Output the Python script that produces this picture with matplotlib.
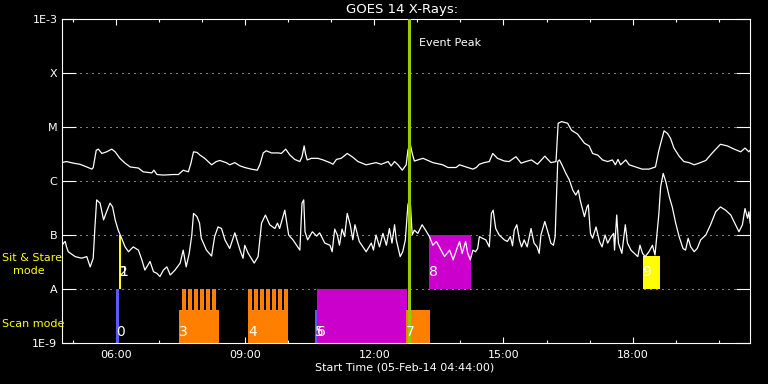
import numpy as np
import matplotlib
matplotlib.use('Agg')
from matplotlib import pyplot as plt
from matplotlib.ticker import FixedLocator, NullLocator

# GOES 14 X-ray flux, time in decimal hours (UT), flux as log10(W/m^2)
long_t = [4.73, 4.85, 5.01, 5.16, 5.32, 5.44, 5.47, 5.54, 5.59, 5.67,
          5.78, 5.90, 5.98, 6.09, 6.21, 6.33, 6.52, 6.63, 6.83, 6.88,
          6.95, 7.10, 7.33, 7.45, 7.56, 7.68, 7.74, 7.80, 7.88, 7.95,
          8.06, 8.22, 8.33, 8.41, 8.56, 8.64, 8.76, 8.88, 8.99, 9.14,
          9.28, 9.34, 9.42, 9.49, 9.61, 9.77, 9.84, 9.94, 10.04, 10.15,
          10.27, 10.32, 10.37, 10.40, 10.44, 10.54, 10.69, 10.81, 10.97, 11.04,
          11.12, 11.23, 11.37, 11.50, 11.62, 11.81, 12.04, 12.16, 12.32, 12.39,
          12.47, 12.55, 12.65, 12.74, 12.78, 12.83, 12.88, 12.93, 13.13, 13.36,
          13.59, 13.71, 13.90, 13.98, 14.13, 14.29, 14.37, 14.44, 14.55, 14.67,
          14.75, 14.86, 15.02, 15.13, 15.29, 15.41, 15.52, 15.65, 15.79, 15.96,
          16.10, 16.22, 16.27, 16.35, 16.49, 16.58, 16.72, 16.88, 16.99, 17.07,
          17.19, 17.30, 17.42, 17.53, 17.60, 17.66, 17.72, 17.84, 17.92, 18.07,
          18.22, 18.38, 18.53, 18.61, 18.73, 18.81, 18.88, 18.96, 19.08, 19.19,
          19.31, 19.43, 19.54, 19.70, 19.85, 20.04, 20.20, 20.36, 20.51, 20.61,
          20.70, 20.73]
long_log = [-5.66, -5.64, -5.67, -5.69, -5.74, -5.78, -5.75, -5.43, -5.41, -5.49,
            -5.46, -5.41, -5.46, -5.58, -5.67, -5.74, -5.76, -5.83, -5.85, -5.80,
            -5.88, -5.89, -5.88, -5.88, -5.80, -5.83, -5.67, -5.46, -5.47, -5.52,
            -5.58, -5.70, -5.64, -5.62, -5.66, -5.70, -5.66, -5.72, -5.75, -5.78,
            -5.80, -5.70, -5.48, -5.44, -5.48, -5.48, -5.49, -5.41, -5.52, -5.60,
            -5.64, -5.55, -5.35, -5.49, -5.61, -5.58, -5.58, -5.61, -5.66, -5.69,
            -5.60, -5.58, -5.49, -5.56, -5.64, -5.70, -5.66, -5.69, -5.64, -5.72,
            -5.64, -5.70, -5.80, -5.70, -5.43, -5.30, -5.49, -5.63, -5.58, -5.66,
            -5.70, -5.75, -5.75, -5.70, -5.74, -5.78, -5.75, -5.69, -5.66, -5.64,
            -5.49, -5.58, -5.63, -5.64, -5.55, -5.67, -5.64, -5.61, -5.69, -5.54,
            -5.66, -5.64, -4.93, -4.90, -4.93, -5.06, -5.13, -5.30, -5.35, -5.49,
            -5.52, -5.61, -5.64, -5.61, -5.70, -5.60, -5.70, -5.61, -5.70, -5.74,
            -5.78, -5.78, -5.74, -5.43, -5.07, -5.12, -5.21, -5.39, -5.54, -5.64,
            -5.66, -5.70, -5.67, -5.62, -5.48, -5.32, -5.35, -5.41, -5.46, -5.39,
            -5.46, -5.43]

short_t = [4.73, 4.78, 4.82, 4.85, 4.89, 5.05, 5.20, 5.32, 5.40, 5.47,
           5.51, 5.55, 5.63, 5.71, 5.78, 5.86, 5.92, 5.98, 6.05, 6.13,
           6.21, 6.29, 6.40, 6.52, 6.60, 6.67, 6.79, 6.87, 6.95, 7.02,
           7.10, 7.18, 7.26, 7.37, 7.49, 7.56, 7.63, 7.70, 7.76, 7.80,
           7.88, 7.94, 7.98, 8.10, 8.22, 8.29, 8.37, 8.45, 8.53, 8.64,
           8.76, 8.88, 8.95, 8.99, 9.07, 9.21, 9.30, 9.38, 9.47, 9.57,
           9.69, 9.75, 9.80, 9.92, 10.01, 10.11, 10.27, 10.32, 10.36, 10.39,
           10.45, 10.56, 10.66, 10.73, 10.85, 10.97, 11.02, 11.08, 11.14, 11.19,
           11.25, 11.31, 11.37, 11.44, 11.50, 11.55, 11.65, 11.81, 11.93, 11.98,
           12.04, 12.12, 12.20, 12.28, 12.35, 12.41, 12.47, 12.51, 12.60, 12.66,
           12.72, 12.78, 12.83, 12.88, 12.93, 13.01, 13.11, 13.19, 13.28, 13.36,
           13.44, 13.51, 13.63, 13.75, 13.83, 13.92, 13.98, 14.04, 14.12, 14.17,
           14.23, 14.29, 14.35, 14.40, 14.44, 14.51, 14.59, 14.67, 14.72, 14.76,
           14.82, 14.90, 15.02, 15.09, 15.16, 15.21, 15.25, 15.31, 15.37, 15.42,
           15.48, 15.55, 15.64, 15.71, 15.78, 15.83, 15.87, 15.96, 16.04, 16.10,
           16.16, 16.20, 16.22, 16.26, 16.30, 16.37, 16.45, 16.53, 16.61, 16.68,
           16.74, 16.78, 16.84, 16.88, 16.94, 16.97, 17.02, 17.07, 17.15, 17.23,
           17.29, 17.36, 17.42, 17.50, 17.56, 17.58, 17.63, 17.67, 17.75, 17.83,
           17.88, 17.96, 18.04, 18.12, 18.17, 18.23, 18.29, 18.38, 18.46, 18.52,
           18.56, 18.61, 18.65, 18.71, 18.77, 18.85, 18.92, 19.00, 19.08, 19.17,
           19.23, 19.29, 19.35, 19.43, 19.50, 19.58, 19.70, 19.81, 19.93, 20.04,
           20.16, 20.28, 20.39, 20.47, 20.55, 20.61, 20.67, 20.70, 20.73]
short_log = [-7.22, -7.15, -7.12, -7.22, -7.31, -7.40, -7.43, -7.40, -7.59, -7.43,
             -6.85, -6.35, -6.41, -6.72, -6.57, -6.41, -6.48, -6.72, -6.91, -7.06,
             -7.22, -7.31, -7.22, -7.28, -7.46, -7.65, -7.49, -7.68, -7.71, -7.77,
             -7.65, -7.59, -7.74, -7.65, -7.52, -7.28, -7.59, -7.34, -7.00, -6.60,
             -6.66, -6.78, -7.06, -7.28, -7.39, -7.03, -6.85, -6.88, -7.09, -7.25,
             -6.96, -7.28, -7.43, -7.19, -7.34, -7.52, -7.40, -6.78, -6.63, -6.81,
             -6.88, -6.78, -6.88, -6.54, -7.00, -7.09, -7.28, -6.41, -6.35, -6.94,
             -7.09, -6.94, -7.02, -6.96, -7.15, -7.19, -7.31, -6.89, -7.00, -7.19,
             -6.89, -7.03, -6.60, -6.81, -7.09, -6.81, -7.12, -7.31, -7.15, -7.28,
             -7.00, -7.22, -6.97, -7.19, -6.88, -7.15, -6.81, -7.09, -7.40, -7.31,
             -7.09, -6.44, -6.32, -7.00, -6.91, -6.97, -6.81, -6.91, -7.03, -7.19,
             -7.12, -7.22, -7.40, -7.28, -7.46, -7.25, -7.12, -7.34, -7.12, -7.34,
             -7.46, -7.28, -7.31, -7.25, -7.03, -7.06, -7.09, -7.22, -6.60, -6.54,
             -6.88, -7.00, -7.09, -7.12, -7.03, -7.20, -6.91, -6.81, -7.09, -7.22,
             -7.09, -7.22, -6.88, -7.15, -7.22, -7.34, -7.00, -6.75, -6.97, -7.15,
             -7.19, -7.03, -6.54, -5.64, -5.61, -5.72, -5.86, -5.98, -6.17, -6.26,
             -6.17, -6.35, -6.54, -6.66, -6.48, -6.44, -6.97, -7.06, -6.85, -7.12,
             -7.22, -7.00, -7.15, -7.03, -6.97, -7.28, -6.63, -7.15, -7.34, -6.81,
             -7.15, -7.28, -7.34, -7.40, -7.19, -7.34, -7.40, -7.31, -7.19, -7.37,
             -7.03, -6.60, -6.11, -5.86, -6.01, -6.29, -6.48, -6.78, -7.03, -7.25,
             -7.28, -7.06, -7.22, -7.31, -7.25, -7.09, -7.00, -6.81, -6.57, -6.48,
             -6.54, -6.63, -6.81, -6.94, -6.81, -6.51, -6.69, -6.57, -6.78]

# observation blocks (numbered)
obs_num = ['0', '1', '2', '3', '4', '5', '6', '7', '8', '9']
obs_start = [6.00, 6.07, 6.07, 7.46, 9.07, 10.62, 10.67, 12.74, 13.28, 18.23]
obs_end = [6.06, 6.07, 6.12, 8.39, 9.99, 10.67, 12.76, 13.30, 14.24, 18.64]
obs_bottom = [1e-9, 1e-8, 1e-8, 1e-9, 1e-9, 1e-9, 1e-9, 1e-9, 1e-8, 1e-8]
obs_top = [1e-8, 1e-7, 1e-7, 4e-9, 4e-9, 4e-9, 1e-8, 4e-9, 1e-7, 4e-8]
obs_color = ['#5a5aff', '#ffff00', '#ffff00', '#ff8000', '#ff8000',
             '#5a5aff', '#cc00cc', '#ff8000', '#cc00cc', '#ffff00']
obs_mode = ['scan', 'sit', 'sit', 'scan', 'scan', 'scan', 'scan', 'scan', 'sit', 'sit']

# raster steps inside scan blocks 3 and 4
raster3 = [7.54, 7.68, 7.82, 7.96, 8.10, 8.24]
raster4 = [9.07, 9.21, 9.35, 9.49, 9.63, 9.77, 9.91]
raster_w = 0.086

peak_t = 12.80

xticks = [6, 9, 12, 15, 18]
xticklabels = ['06:00', '09:00', '12:00', '15:00', '18:00']
yticks = [1e-3, 1e-4, 1e-5, 1e-6, 1e-7, 1e-8, 1e-9]
yticklabels = ['1E-3', 'X', 'M', 'C', 'B', 'A', '1E-9']

fig = plt.figure(figsize=(7.68, 3.84), dpi=100, facecolor='black')
ax = fig.add_axes([61.5/768, 41/384, 688.8/768, 324/384], facecolor='black')
ax.set_yscale('log')
ax.set_xlim(4.7333, 20.7333)
ax.set_ylim(1e-9, 1e-3)

# observation blocks
for i in range(len(obs_num)):
    w = obs_end[i] - obs_start[i]
    if w > 0:
        ax.bar(obs_start[i], obs_top[i] - obs_bottom[i], width=w, bottom=obs_bottom[i],
               align='edge', color=obs_color[i], linewidth=0, zorder=2)
for r in raster3 + raster4:
    ax.bar(r, 1e-8 - 4e-9, width=raster_w, bottom=4e-9, align='edge',
           color='#ff8000', linewidth=0, zorder=2)

ax.plot(long_t, 10**np.array(long_log), color='white', lw=0.9, zorder=3)
ax.plot(short_t, 10**np.array(short_log), color='white', lw=0.9, zorder=3)

ax.axvline(peak_t, color='#99cc00', lw=2.2, zorder=4)
ax.text(peak_t + 0.24, 0.927, 'Event Peak', color='white', fontsize=8,
        va='center', ha='left', transform=ax.get_xaxis_transform(), zorder=5)

for i in range(len(obs_num)):
    ylab = 10**-8.80 if obs_mode[i] == 'scan' else 10**-7.69
    ax.text(obs_start[i], ylab, obs_num[i], color='white', fontsize=10,
            ha='left', va='center', zorder=5)

# axes styling
for s in ax.spines.values():
    s.set_color('white')
    s.set_linewidth(0.8)
ax.yaxis.set_major_locator(FixedLocator(yticks))
ax.yaxis.set_minor_locator(NullLocator())
ax.set_yticklabels(yticklabels)
ax.set_xticks(xticks)
ax.set_xticklabels(xticklabels)
ax.xaxis.set_minor_locator(FixedLocator(np.arange(5, 21)))
ax.tick_params(axis='x', which='major', direction='in', length=4.3, width=0.8,
               top=True, bottom=True, colors='white', labelsize=8, pad=5)
ax.tick_params(axis='x', which='minor', direction='in', length=2.2, width=0.8,
               top=True, bottom=True, colors='white')
ax.tick_params(axis='y', which='major', direction='in', length=10, width=0.8,
               left=True, right=True, colors='white', labelsize=8, pad=3)
ax.yaxis.grid(True, color='white', lw=0.72, linestyle=(0, (1, 5)))
ax.set_axisbelow(True)

fig.text(402/768, 1 - 9/384, 'GOES 14 X-Rays:', color='white', fontsize=9.5,
         ha='center', va='center')
fig.text(405/768, 1 - 368/384, 'Start Time (05-Feb-14 04:44:00)', color='white',
         fontsize=8, ha='center', va='center')
fig.text(2/768, 1 - 258/384, 'Sit & Stare', color='#ffff00', fontsize=8,
         ha='left', va='center')
fig.text(13/768, 1 - 271/384, 'mode', color='#ffff00', fontsize=8,
         ha='left', va='center')
fig.text(2/768, 1 - 324/384, 'Scan mode', color='#ffff00', fontsize=8,
         ha='left', va='center')

plt.savefig('out.png', dpi=100, facecolor='black')
